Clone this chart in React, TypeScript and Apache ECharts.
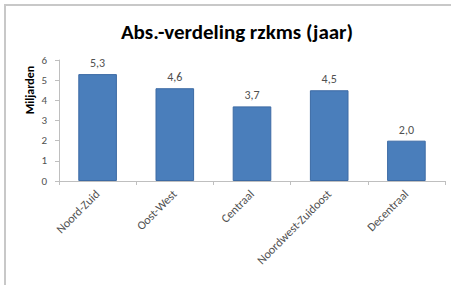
import React, { useEffect, useRef } from "react";
import * as echarts from "echarts";

const categories = ["Noord-Zuid", "Oost-West", "Centraal", "Noordwest-Zuidoost", "Decentraal"];
const values = [5.3, 4.6, 3.7, 4.5, 2.0];
const title = "Abs.-verdeling rzkms (jaar)";
const yName = "Miljarden";

export default function App() {
  const ref = useRef<HTMLDivElement>(null);
  useEffect(() => {
    document.body.style.margin = "0";
    const chart = echarts.init(ref.current!, null, { renderer: "svg" });
    const font = "Carlito, 'Open Sans', 'Noto Sans', sans-serif";
    chart.setOption({
      animation: false,
      backgroundColor: "#ffffff",
      title: {
        text: title,
        left: 232,
        top: 16,
        textAlign: "center",
        textStyle: { fontFamily: font, fontSize: 21, fontWeight: "bold", color: "#000" },
      },
      grid: { left: 59, right: 6, top: 60, bottom: 104, containLabel: false },
      xAxis: {
        type: "category",
        data: categories,
        axisLine: { lineStyle: { color: "#bfbfbf" } },
        axisTick: { show: true, alignWithLabel: false, length: 4, lineStyle: { color: "#bfbfbf" } },
        axisLabel: { rotate: 45, fontSize: 12, color: "#505050", fontFamily: font, interval: 0, margin: 11 },
      },
      yAxis: {
        type: "value",
        min: 0,
        max: 6,
        interval: 1,
        axisLine: { show: true, lineStyle: { color: "#bfbfbf" } },
        axisTick: { show: true, length: 4, lineStyle: { color: "#bfbfbf" } },
        axisLabel: { fontSize: 11, color: "#505050", fontFamily: font, margin: 12 },
        splitLine: { show: false },
      },
      series: [
        {
          type: "bar",
          data: values,
          barWidth: "50%",
          itemStyle: { color: "#4a7ebb", borderColor: "#3c6aa4", borderWidth: 1 },
          label: {
            show: true,
            position: "top",
            distance: 5,
            fontSize: 12,
            color: "#505050",
            fontFamily: font,
            formatter: (p: any) => p.value.toFixed(1).replace(".", ","),
          },
        },
      ],
      graphic: [
        { type: "line", shape: { x1: 4, y1: 5, x2: 451, y2: 5 }, style: { stroke: "#c8c8c8", lineWidth: 2 } },
        { type: "line", shape: { x1: 5, y1: 4, x2: 5, y2: 285 }, style: { stroke: "#c8c8c8", lineWidth: 2 } },
        {
          type: "text",
          x: 30,
          y: 90,
          rotation: Math.PI / 2,
          style: {
            text: yName,
            fontSize: 12,
            fontWeight: "bold",
            fontFamily: font,
            fill: "#000",
            align: "center",
            verticalAlign: "middle",
          },
        },
      ],
    });
    return () => chart.dispose();
  }, []);
  return <div ref={ref} style={{ width: 451, height: 285 }} />;
}
